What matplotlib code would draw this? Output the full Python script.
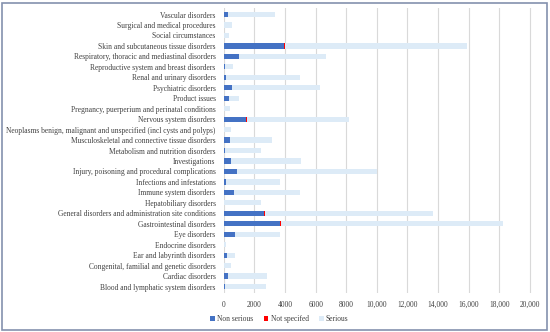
import matplotlib
matplotlib.use("Agg")
import matplotlib.pyplot as plt
from matplotlib.patches import Rectangle
from matplotlib.ticker import FuncFormatter

plt.rcParams["font.family"] = ["Liberation Serif", "DejaVu Serif"]

# categories listed bottom to top
categories = [
    "Blood and lymphatic system disorders",
    "Cardiac disorders",
    "Congenital, familial and genetic disorders",
    "Ear and labyrinth disorders",
    "Endocrine disorders",
    "Eye disorders",
    "Gastrointestinal disorders",
    "General disorders and administration site conditions",
    "Hepatobiliary disorders",
    "Immune system disorders",
    "Infections and infestations",
    "Injury, poisoning and procedural complications",
    "Investigations",
    "Metabolism and nutrition disorders",
    "Musculoskeletal and connective tissue disorders",
    "Neoplasms benign, malignant and unspecified (incl cysts and polyps)",
    "Nervous system disorders",
    "Pregnancy, puerperium and perinatal conditions",
    "Product issues",
    "Psychiatric disorders",
    "Renal and urinary disorders",
    "Reproductive system and breast disorders",
    "Respiratory, thoracic and mediastinal disorders",
    "Skin and subcutaneous tissue disorders",
    "Social circumstances",
    "Surgical and medical procedures",
    "Vascular disorders",
]
non_serious = [65, 240, 0, 200, 0, 720, 3660, 2610, 20, 675, 150, 850, 435, 65,
               410, 0, 1420, 0, 350, 520, 110, 90, 1020, 3920, 0, 0, 261]
not_specified = [0, 0, 0, 0, 0, 0, 90, 90, 0, 0, 0, 0, 0, 0,
                 0, 0, 65, 0, 0, 0, 0, 0, 0, 90, 0, 0, 0]
serious = [2680, 2550, 435, 560, 150, 2980, 14510, 10980, 2400, 4275, 3550, 9170,
           4615, 2355, 2750, 435, 6705, 370, 630, 5750, 4880, 500, 5670, 11890,
           327, 545, 3050]

fig = plt.figure(figsize=(5.5, 3.32), dpi=100)
ax = fig.add_axes([0.407, 0.118, 0.573, 0.857])

y = range(len(categories))
left2 = [a + b for a, b in zip(non_serious, not_specified)]
ax.barh(y, non_serious, height=0.5, color="#4472C4", label="Non serious", zorder=3)
ax.barh(y, not_specified, left=non_serious, height=0.5, color="#FF0000",
        label="Not specifed", zorder=3)
ax.barh(y, serious, left=left2, height=0.5, color="#DDEBF7", label="Serious", zorder=3)

ax.set_yticks(list(y))
ax.set_yticklabels(categories, fontsize=5.45)
ax.set_ylim(-0.6, len(categories) - 0.4)
ax.set_xlim(0, 20600)
ax.set_xticks(range(0, 20001, 2000))
ax.xaxis.set_major_formatter(FuncFormatter(
    lambda v, p: f"{int(v):,}" if v >= 10000 else f"{int(v)}"))
ax.tick_params(axis="x", labelsize=5.45, length=0, pad=6, colors="#404040")
ax.tick_params(axis="y", length=0, pad=6, colors="#404040")
ax.grid(axis="x", color="#D9D9D9", linewidth=0.8, zorder=0)
for s in ax.spines.values():
    s.set_visible(False)

ax.legend(loc="upper left", bbox_to_anchor=(-0.065, -0.055), ncol=3, fontsize=5.45,
          frameon=False, handlelength=0.6, handleheight=0.6, columnspacing=1.4,
          handletextpad=0.3, labelcolor="#404040")

fig.patches.append(Rectangle((0.004, 0.006), 0.99, 0.986, transform=fig.transFigure,
                             fill=False, edgecolor="#8491AE", linewidth=1.2))

fig.savefig("out.png", dpi=100)
